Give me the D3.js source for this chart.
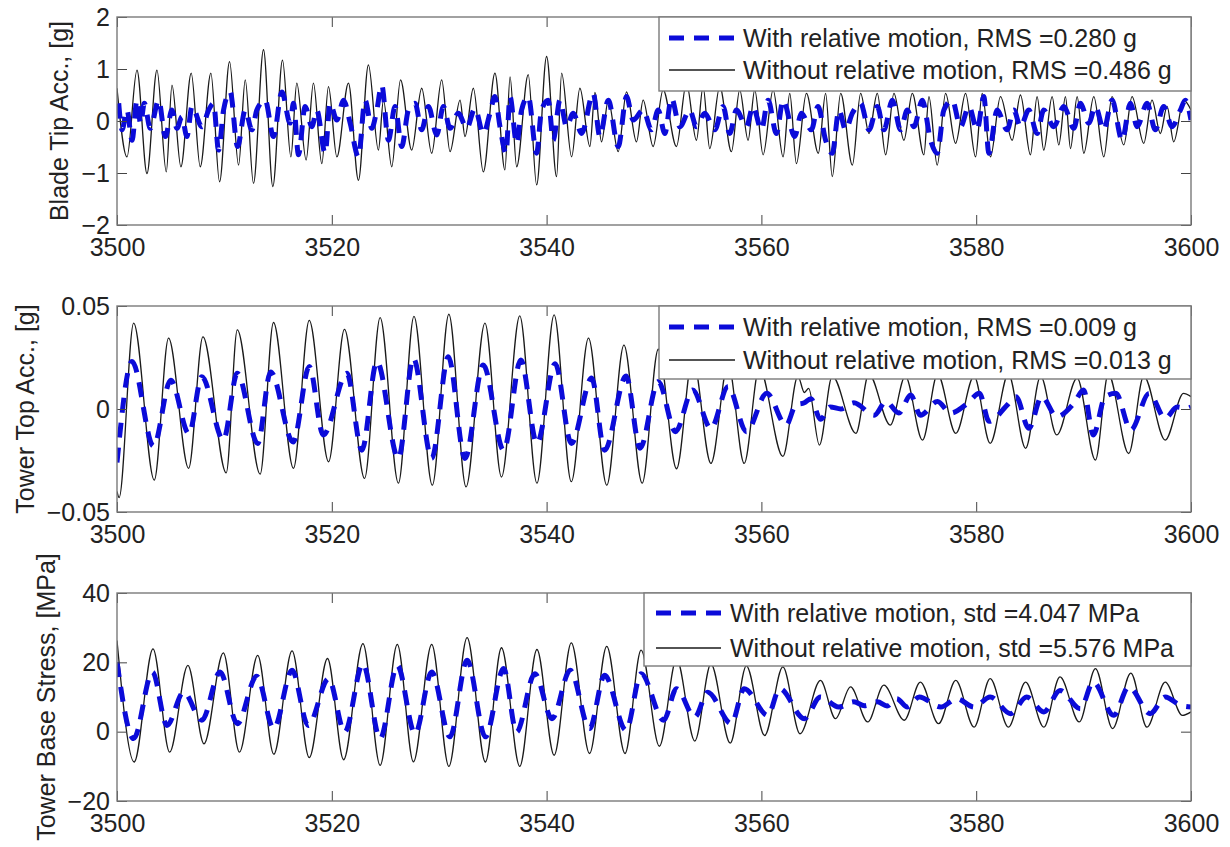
<!DOCTYPE html>
<html>
<head>
<meta charset="utf-8">
<script src="https://cdn.jsdelivr.net/npm/d3@7"></script>
<style>
  body { margin: 0; background: #fff; }
  svg { display: block; font-family: "Liberation Sans", Arial, sans-serif; }
</style>
</head>
<body>
<svg id="chart" width="1230" height="847"></svg>
<script>
/* Data: [time (s), value] */
const xTicks = [3500, 3520, 3540, 3560, 3580, 3600];
const bladeTicks = [-2, -1, 0, 1, 2];
const towerTopTicks = [-0.05, 0, 0.05];
const stressTicks = [-20, 0, 20, 40];

const bladeLegend = ["With relative motion, RMS =0.280 g", "Without relative motion, RMS =0.486 g"];
const towerTopLegend = ["With relative motion, RMS =0.009 g", "Without relative motion, RMS =0.013 g"];
const stressLegend = ["With relative motion, std =4.047 MPa", "Without relative motion, std =5.576 MPa"];

const bladeWithout = [[3500.0,0.63],[3500.93,-0.69],[3501.86,0.98],[3502.79,-1.01],[3503.72,0.98],[3504.59,-0.98],[3505.12,0.69],[3505.95,-0.88],[3506.91,0.92],[3507.75,-0.88],[3508.74,0.92],[3509.55,-1.17],[3510.48,1.14],[3511.32,-0.85],[3511.94,0.79],[3512.71,-1.20],[3513.64,1.37],[3514.51,-1.26],[3515.41,1.17],[3516.19,-0.69],[3516.74,0.73],[3517.61,-0.75],[3518.29,0.73],[3519.07,-0.82],[3519.69,0.66],[3520.47,-0.69],[3521.55,0.73],[3522.48,-1.14],[3523.41,1.08],[3524.34,-0.56],[3524.81,0.40],[3525.58,-0.88],[3526.4,0.79],[3527.44,-0.56],[3528.37,0.63],[3529.30,-0.62],[3530.23,0.79],[3531.01,-0.59],[3531.94,0.40],[3532.40,-0.30],[3533.18,0.63],[3534.11,-0.98],[3535.19,0.92],[3536.12,-0.94],[3536.6,0.85],[3537.21,-0.88],[3538.29,0.89],[3539.07,-1.23],[3540.0,1.24],[3540.93,-1.07],[3541.40,0.92],[3542.33,-0.69],[3543.10,0.63],[3544.03,-0.49],[3544.5,0.55],[3545.12,-0.40],[3545.74,0.40],[3546.67,-0.59],[3547.44,0.56],[3548.37,-0.40],[3548.99,0.40],[3549.92,-0.49],[3550.85,0.60],[3552.09,-0.49],[3553.02,0.73],[3553.95,-0.37],[3554.57,0.66],[3555.19,-0.53],[3556.12,0.66],[3557.21,-0.59],[3557.98,0.60],[3558.76,-0.37],[3559.38,0.60],[3560.16,-0.65],[3561.09,0.60],[3562.02,-0.69],[3562.64,0.53],[3563.26,-0.82],[3564.19,0.53],[3565.3,-0.62],[3565.98,0.53],[3566.60,-1.07],[3567.38,0.53],[3568.47,-0.85],[3569.24,0.53],[3570.02,-0.24],[3570.79,0.53],[3571.57,-0.65],[3572.34,0.53],[3573.27,-0.37],[3574.05,0.53],[3575.13,-0.65],[3575.60,0.47],[3576.37,-0.85],[3577.15,0.53],[3578.08,-0.43],[3579.01,0.53],[3579.94,-0.69],[3580.56,0.53],[3581.33,-0.69],[3582.26,0.47],[3583.35,-0.37],[3584.12,0.50],[3585.05,-0.65],[3585.67,0.47],[3586.29,-0.56],[3587.07,0.47],[3587.69,-0.46],[3588.31,0.47],[3588.78,-0.53],[3589.40,0.47],[3590.02,-0.62],[3590.95,0.47],[3591.88,-0.69],[3592.65,0.47],[3593.74,-0.46],[3594.51,0.47],[3595.60,-0.43],[3596.37,0.40],[3597.15,-0.24],[3597.77,0.28],[3598.39,-0.40],[3599.32,0.40],[3600,0.21]];

const bladeWith = [[3500.16,0.34],[3500.47,-0.17],[3500.93,0.21],[3501.40,-0.37],[3501.86,0.40],[3502.2,-0.05],[3502.54,0.34],[3503.10,-0.14],[3503.88,0.40],[3504.50,-0.30],[3505.12,0.21],[3505.58,-0.14],[3506.05,0.08],[3506.51,-0.30],[3506.98,0.28],[3507.91,-0.11],[3508.53,0.21],[3508.99,0.34],[3509.46,-0.56],[3509.92,0.21],[3510.54,0.56],[3511.22,-0.49],[3511.94,0.21],[3512.56,-0.17],[3513.02,0.21],[3513.80,0.40],[3514.57,-0.30],[3515.35,0.56],[3516.12,-0.04],[3516.43,0.34],[3516.90,-0.65],[3517.52,0.28],[3518.14,-0.11],[3518.60,0.21],[3519.38,-0.62],[3519.84,0.34],[3520.47,0.02],[3521.09,0.40],[3521.71,-0.04],[3522.48,-0.69],[3523.10,0.40],[3523.72,-0.14],[3524.19,0.21],[3524.65,0.69],[3525.27,-0.37],[3525.89,0.28],[3526.51,-0.49],[3527.13,0.21],[3527.75,0.34],[3528.37,-0.17],[3528.99,0.28],[3529.77,-0.27],[3530.39,0.28],[3531.01,-0.14],[3531.78,0.15],[3532.56,-0.14],[3533.33,0.24],[3534.11,-0.24],[3534.73,0.15],[3535.19,0.47],[3535.66,-0.11],[3536.22,-0.62],[3536.59,0.47],[3537.21,-0.43],[3537.67,0.21],[3538.29,0.47],[3539.07,-0.62],[3539.53,0.21],[3540.16,0.40],[3540.62,-0.37],[3541.24,0.40],[3541.86,-0.11],[3542.48,0.15],[3543.26,-0.24],[3544.34,0.53],[3544.96,-0.30],[3545.74,0.40],[3546.67,-0.49],[3547.44,0.47],[3548.06,0.02],[3549.0,0.21],[3549.77,-0.17],[3550.39,0.21],[3551.01,-0.24],[3551.63,0.44],[3552.40,-0.11],[3553.33,0.21],[3553.95,-0.11],[3554.73,0.15],[3555.66,-0.17],[3556.43,0.28],[3557.05,-0.24],[3557.67,0.21],[3558.60,-0.11],[3559.22,0.28],[3560.0,-0.17],[3560.62,0.40],[3561.40,-0.24],[3562.02,0.40],[3563.10,-0.30],[3563.72,0.15],[3564.65,-0.17],[3565.27,0.28],[3565.98,-0.37],[3566.60,-0.62],[3567.22,0.21],[3567.84,-0.17],[3568.47,0.15],[3569.24,0.34],[3570.02,-0.17],[3570.79,0.28],[3571.41,-0.17],[3572.19,0.40],[3572.96,-0.17],[3573.58,0.21],[3574.20,-0.11],[3574.98,0.40],[3575.75,-0.37],[3576.37,-0.62],[3576.99,0.21],[3577.77,0.40],[3578.54,-0.11],[3579.32,0.28],[3580.09,-0.17],[3580.71,0.47],[3581.18,-0.62],[3581.95,0.21],[3582.88,-0.17],[3583.50,0.21],[3584.12,-0.11],[3584.90,0.21],[3585.67,-0.24],[3586.29,0.21],[3587.22,-0.11],[3588.16,0.28],[3589.09,-0.14],[3589.71,0.34],[3590.48,-0.04],[3591.10,0.28],[3591.88,-0.17],[3592.65,0.40],[3593.58,-0.37],[3594.36,0.34],[3594.98,-0.11],[3595.91,0.34],[3596.68,-0.17],[3597.46,0.28],[3598.23,-0.11],[3599.01,0.21],[3599.47,0.40],[3600,0.02]];

const towerTopWithout = [[3500.0,-0.040],[3500.2,-0.043],[3501.55,0.0417],[3503.47,-0.0345],[3504.8,0.0344],[3506.67,-0.0288],[3508.0,0.035],[3510.17,-0.031],[3511.2,0.0384],[3513.33,-0.0316],[3514.57,0.042],[3516.43,-0.0288],[3517.9,0.043],[3519.7,-0.0256],[3521.18,0.0387],[3523.05,-0.0337],[3524.5,0.0444],[3526.2,-0.036],[3527.65,0.045],[3529.36,-0.037],[3530.9,0.046],[3532.5,-0.0378],[3534.26,0.0417],[3535.8,-0.033],[3537.5,0.0452],[3539.1,-0.036],[3540.7,0.0457],[3542.3,-0.0353],[3543.9,0.0344],[3545.6,-0.037],[3547.2,0.031],[3548.9,-0.036],[3550.4,0.029],[3552.1,-0.029],[3553.6,0.025],[3555.3,-0.0264],[3556.9,0.022],[3558.4,-0.0264],[3559.8,0.020],[3562.0,-0.023],[3563.4,0.016],[3564.0,0.008],[3564.4,0.010],[3565.4,-0.0175],[3566.6,0.016],[3568.8,-0.0118],[3570.0,0.017],[3572.0,-0.0078],[3573.4,0.016],[3575.0,-0.0151],[3576.4,0.017],[3578.1,-0.0118],[3579.8,0.016],[3581.3,-0.0167],[3583.0,0.017],[3584.6,-0.0191],[3586.0,0.016],[3587.5,-0.0126],[3589.4,0.015],[3591.1,-0.0248],[3592.3,0.017],[3594.2,-0.0216],[3595.6,0.016],[3597.6,-0.0151],[3599.3,0.0076],[3600,0.006]];

const towerTopWith = [[3500.0,-0.026],[3501.4,0.023],[3503.4,-0.018],[3505.0,0.014],[3506.7,-0.012],[3507.9,0.0157],[3509.9,-0.015],[3511.2,0.0173],[3513.1,-0.0167],[3514.3,0.018],[3516.4,-0.016],[3517.9,0.0206],[3519.2,-0.0126],[3521.4,0.0173],[3522.8,-0.020],[3524.2,0.023],[3526.2,-0.024],[3527.6,0.0246],[3529.3,-0.024],[3530.85,0.0254],[3532.4,-0.024],[3534.1,0.0214],[3536.0,-0.020],[3537.6,0.0238],[3539.1,-0.0167],[3540.8,0.022],[3542.3,-0.0167],[3544.2,0.015],[3545.4,-0.020],[3547.4,0.016],[3548.7,-0.019],[3550.4,0.0133],[3552.0,-0.011],[3553.6,0.0092],[3555.3,-0.0094],[3556.9,0.0109],[3558.6,-0.011],[3560.5,0.0076],[3562.3,-0.0078],[3563.2,0.002],[3564.0,0.003],[3564.6,0.005],[3565.5,-0.005],[3566.4,0.001],[3567.4,0.000],[3568.6,0.003],[3570.5,-0.003],[3571.6,0.0036],[3572.8,-0.002],[3573.9,0.0068],[3574.8,-0.003],[3576.4,0.0036],[3577.6,-0.002],[3579.2,0.0028],[3580.3,0.0076],[3581.2,-0.006],[3582.9,0.002],[3583.7,0.006],[3584.9,-0.0094],[3586.1,0.006],[3587.5,-0.0037],[3589.1,0.0028],[3590.0,0.0092],[3590.9,-0.0126],[3592.0,0.006],[3593.0,0.0076],[3594.4,-0.0102],[3596.1,0.0076],[3597.6,-0.0045],[3598.7,0.001],[3599.6,0.0003],[3600,0.001]];

const stressWithout = [[3500.0,26.3],[3501.6,-8.75],[3503.35,23.9],[3504.9,-5.9],[3506.6,19.1],[3508.1,-3.5],[3509.9,22.7],[3511.4,-5.9],[3513.1,22.0],[3514.6,-6.5],[3516.3,23.3],[3517.9,-7.5],[3519.6,21.1],[3521.1,-8.1],[3522.9,25.4],[3524.5,-9.7],[3526.1,25.2],[3527.6,-8.7],[3529.3,25.2],[3530.9,-10.0],[3532.6,27.1],[3534.3,-8.75],[3535.8,24.2],[3537.5,-10.0],[3539.1,23.7],[3540.7,-6.8],[3542.3,25.6],[3544.0,-6.3],[3545.6,24.6],[3547.3,-6.3],[3548.8,23.5],[3550.5,-4.2],[3552.1,21.0],[3553.8,-2.7],[3555.3,19.5],[3557.1,-3.3],[3558.6,19.0],[3560.3,-1.1],[3562.0,18.7],[3563.6,-0.6],[3565.5,14.8],[3566.9,3.75],[3568.3,12.9],[3569.9,2.8],[3571.4,13.4],[3573.3,3.3],[3574.8,14.3],[3576.5,2.3],[3578.1,14.8],[3579.8,1.3],[3581.3,15.3],[3583.0,1.3],[3584.6,14.3],[3586.3,1.3],[3587.8,15.8],[3589.6,2.8],[3591.1,18.2],[3592.7,0.9],[3594.4,16.9],[3595.9,1.3],[3597.6,14.3],[3599.2,4.7],[3600,5.7]];

const stressWith = [[3500.0,20.1],[3501.55,-2.0],[3503.3,17.2],[3504.65,1.8],[3506.2,11.4],[3507.9,3.3],[3509.6,17.2],[3511.2,2.3],[3513.0,16.0],[3514.6,0.9],[3516.3,17.7],[3517.8,1.8],[3519.7,15.3],[3521.2,-0.1],[3522.9,19.6],[3524.5,-2.0],[3526.1,19.1],[3527.75,-0.6],[3529.3,17.2],[3531.0,-1.5],[3532.6,20.6],[3534.3,-1.5],[3536.0,18.2],[3537.2,-0.1],[3538.9,16.7],[3540.5,3.75],[3542.2,17.7],[3544.0,0.9],[3545.4,16.3],[3547.4,0.4],[3548.8,16.7],[3550.9,3.3],[3552.1,12.4],[3553.8,4.2],[3555.0,11.4],[3557.2,2.3],[3558.4,12.4],[3560.6,4.7],[3561.7,12.4],[3564.0,3.75],[3565.5,10.0],[3567.2,7.1],[3568.6,8.6],[3569.6,7.5],[3570.8,8.6],[3571.7,7.4],[3572.6,9.5],[3573.6,7.1],[3574.7,10.0],[3576.7,7.1],[3578.2,9.5],[3579.8,7.1],[3581.3,10.0],[3583.2,5.2],[3584.7,10.0],[3586.3,5.7],[3587.8,11.9],[3589.7,6.6],[3590.9,14.3],[3592.8,4.7],[3594.2,12.9],[3596.2,5.2],[3597.6,10.0],[3599.0,7.6],[3600,7.1]];

/* Layout */
const svg = d3.select("#chart");
const left = 117, right = 1191;
const fontSize = 25;
const boxColor = "#7a7a7a";
const textColor = "#222";
const blue = "#0b0bd9";

const panels = [
  { top: 17, bottom: 225, domain: [-2, 2], ticks: bladeTicks, label: "Blade Tip Acc., [g]", labelX: 59,
    without: bladeWithout, withRel: bladeWith, legend: bladeLegend,
    leg: { x: 659, h: 74, l1: 21, l2: 53, sx0: 669, sx1: 735, tx: 743 } },
  { top: 306, bottom: 512, domain: [-0.05, 0.05], ticks: towerTopTicks, label: "Tower Top Acc., [g]", labelX: 25,
    without: towerTopWithout, withRel: towerTopWith, legend: towerTopLegend,
    leg: { x: 659, h: 73, l1: 21, l2: 54, sx0: 669, sx1: 735, tx: 743 } },
  { top: 593, bottom: 801, domain: [-20, 40], ticks: stressTicks, label: "Tower Base Stress, [MPa]", labelX: 46,
    without: stressWithout, withRel: stressWith, legend: stressLegend,
    leg: { x: 644, h: 73, l1: 20, l2: 55, sx0: 656, sx1: 721, tx: 730 } }
];

const fmt = d => String(d).replace("-", "\u2212");

panels.forEach((p, i) => {
  const x = d3.scaleLinear().domain([3500, 3600]).range([left, right]);
  const y = d3.scaleLinear().domain(p.domain).range([p.bottom, p.top]);
  const g = svg.append("g");

  const clipId = "clip" + i;
  svg.append("clipPath").attr("id", clipId)
    .append("rect").attr("x", left).attr("y", p.top)
    .attr("width", right - left).attr("height", p.bottom - p.top);

  const line = d3.line()
    .x(d => x(d[0]))
    .y(d => y(d[1]))
    .curve(d3.curveMonotoneX);

  const plot = g.append("g").attr("clip-path", `url(#${clipId})`);
  plot.append("path")
    .attr("d", line(p.without))
    .attr("fill", "none")
    .attr("stroke", "#1a1a1a")
    .attr("stroke-width", 1.3);
  plot.append("path")
    .attr("d", line(p.withRel))
    .attr("fill", "none")
    .attr("stroke", blue)
    .attr("stroke-width", 5)
    .attr("stroke-dasharray", "15,10");

  /* Axes with inward ticks */
  const styleAxis = sel => {
    sel.select(".domain").remove();
    sel.selectAll(".tick line").attr("stroke", "#444");
    sel.selectAll(".tick text")
      .attr("fill", textColor)
      .style("font-size", fontSize + "px")
      .style("font-family", "'Liberation Sans', Arial, sans-serif");
  };

  g.append("g").attr("transform", `translate(0,${p.bottom})`)
    .call(d3.axisBottom(x).tickValues(xTicks).tickSizeInner(-10).tickSizeOuter(0).tickPadding(13).tickFormat(d3.format("d")))
    .call(styleAxis);
  g.append("g").attr("transform", `translate(0,${p.top})`)
    .call(d3.axisTop(x).tickValues(xTicks).tickSizeInner(-10).tickSizeOuter(0).tickFormat(""))
    .call(styleAxis);
  g.append("g").attr("transform", `translate(${left},0)`)
    .call(d3.axisLeft(y).tickValues(p.ticks).tickSizeInner(-10).tickSizeOuter(0).tickPadding(7).tickFormat(fmt))
    .call(styleAxis);
  g.append("g").attr("transform", `translate(${right},0)`)
    .call(d3.axisRight(y).tickValues(p.ticks).tickSizeInner(-10).tickSizeOuter(0).tickFormat(""))
    .call(styleAxis);

  /* Frame */
  g.append("rect")
    .attr("x", left).attr("y", p.top)
    .attr("width", right - left).attr("height", p.bottom - p.top)
    .attr("fill", "none").attr("stroke", boxColor).attr("stroke-width", 1.4);

  /* Y label */
  g.append("text")
    .attr("transform", `translate(${p.labelX},${(p.top + p.bottom) / 2}) rotate(-90)`)
    .attr("text-anchor", "middle")
    .attr("dy", "0.35em")
    .attr("fill", textColor)
    .style("font-size", fontSize + "px")
    .text(p.label);

  /* Legend */
  const L = p.leg;
  const lg = g.append("g");
  lg.append("rect")
    .attr("x", L.x).attr("y", p.top)
    .attr("width", right - L.x).attr("height", L.h)
    .attr("fill", "#fff").attr("stroke", boxColor).attr("stroke-width", 1.4);
  [L.l1, L.l2].forEach((off, k) => {
    const yy = p.top + off;
    lg.append("line")
      .attr("x1", L.sx0).attr("x2", L.sx1).attr("y1", yy).attr("y2", yy)
      .attr("stroke", k === 0 ? blue : "#1a1a1a")
      .attr("stroke-width", k === 0 ? 5 : 1.3)
      .attr("stroke-dasharray", k === 0 ? "15,10" : null);
    lg.append("text")
      .attr("x", L.tx).attr("y", yy).attr("dy", "0.35em")
      .attr("fill", textColor)
      .style("font-size", fontSize + "px")
      .text(p.legend[k]);
  });
});
</script>
</body>
</html>
